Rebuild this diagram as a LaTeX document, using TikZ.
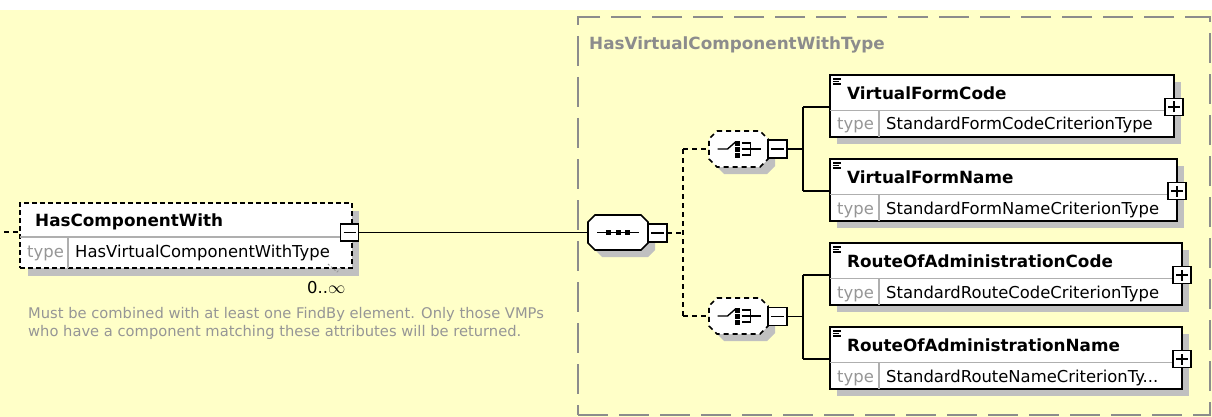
\documentclass[tikz,border=0pt]{standalone}
\usepackage{fontspec}
\setmainfont{DejaVu Sans}
\pgfdeclarelayer{back}
\pgfdeclarelayer{shadow}
\pgfsetlayers{back,shadow,main}
\definecolor{bg}{RGB}{255,255,200}
\definecolor{shd}{RGB}{192,192,192}
\definecolor{grpc}{RGB}{140,140,140}
\definecolor{typc}{RGB}{150,150,150}
\definecolor{dsc}{RGB}{150,150,150}
\definecolor{divc}{RGB}{175,175,175}
\newcommand\fnm{\fontsize{16.8pt}{19pt}\selectfont\bfseries}
\newcommand\ftv{\fontsize{16.4pt}{19pt}\selectfont}
\newcommand\fds{\fontsize{14.7pt}{18pt}\selectfont}
% element box: name, x, y, width, title, type
\newcommand\xelem[6]{%
  \node[ebox, minimum width=#4pt] (#1) at (#2,#3) {};
  \draw[divl] ({#2},{#3+35.5}) -- ({#2+#4},{#3+35.5});
  \draw[divl] ({#2+49},{#3+35.5}) -- ({#2+49},{#3+62});
  \draw[line width=1.1pt] ({#2+3},{#3+4}) -- ({#2+11},{#3+4})
                        ({#2+3},{#3+6.5}) -- ({#2+9},{#3+6.5})
                        ({#2+3},{#3+9}) -- ({#2+11},{#3+9});
  \node[nm] (#1n) at ({#2+17},{#3+18}) {#5};
  \node[tl] (#1t) at ({#2+7},{#3+49}) {type};
  \node[tv] (#1v) at ({#2+56},{#3+49}) {#6};
  \node[pm] (#1p) at ({#2+#4},{#3+32}) {};
  \draw[conn] ([xshift=3pt]#1p.west) -- ([xshift=-3pt]#1p.east)
              ([yshift=3pt]#1p.south) -- ([yshift=-3pt]#1p.north);
  \begin{pgfonlayer}{shadow}
    \fill[shd] ({#2+7},{#3+7}) rectangle ({#2+#4+7},{#3+69});
  \end{pgfonlayer}
}
% octagon path: cx, cy, w, h, chamfer
\newcommand\octpath[5]{({#1-#3/2+#5},{#2-#4/2}) -- ({#1+#3/2-#5},{#2-#4/2}) -- ({#1+#3/2},{#2-#4/2+#5}) -- ({#1+#3/2},{#2+#4/2-#5}) -- ({#1+#3/2-#5},{#2+#4/2}) -- ({#1-#3/2+#5},{#2+#4/2}) -- ({#1-#3/2},{#2+#4/2-#5}) -- ({#1-#3/2},{#2-#4/2+#5}) -- cycle}
\newcommand\minusglyph[1]{\draw[conn] ([xshift=3pt]#1.west) -- ([xshift=-3pt]#1.east);}
\newcommand\choiceglyph[2]{%
  \draw[line width=1.4pt] ({#1-21},{#2}) -- ({#1-11},{#2}) -- ({#1-3},{#2-7});
  \fill ({#1-3.5},{#2-8.5}) rectangle ({#1+1.5},{#2-3.5});
  \fill ({#1-3.5},{#2-2.5}) rectangle ({#1+1.5},{#2+2.5});
  \fill ({#1-3.5},{#2+3.5}) rectangle ({#1+1.5},{#2+8.5});
  \draw[line width=1.4pt] ({#1+3},{#2-6}) -- ({#1+12},{#2-6}) -- ({#1+12},{#2+6}) -- ({#1+3},{#2+6});
  \draw[line width=1.4pt] ({#1+3},{#2}) -- ({#1+22},{#2});
}
\begin{document}
\begin{tikzpicture}[x=1pt,y=-1pt,
  nm/.style={font=\fnm, anchor=west, inner sep=0pt, text height=12.2pt, text depth=0pt},
  tv/.style={font=\ftv, anchor=west, inner sep=0pt, text height=12pt, text depth=0pt},
  tl/.style={tv, text=typc},
  ds/.style={font=\fds, anchor=west, inner sep=0pt, text height=10.7pt, text depth=0pt, text=dsc},
  gt/.style={font=\fnm, anchor=west, inner sep=0pt, text height=12.2pt, text depth=0pt, text=grpc},
  ebox/.style={draw, line width=1.7pt, fill=white, anchor=north west, minimum height=62pt, inner sep=0pt, outer sep=0pt},
  dbox/.style={draw, line width=1.6pt, dash pattern=on 5pt off 3pt, fill=white, anchor=north west, inner sep=0pt, outer sep=0pt},
  pm/.style={draw, line width=1.6pt, fill=white, minimum width=18pt, minimum height=17pt, inner sep=0pt, outer sep=0pt},
  conn/.style={line width=1.6pt},
  dconn/.style={line width=1.6pt, dash pattern=on 5pt off 4pt},
  divl/.style={draw=divc, line width=1.1pt},
  comp/.style={inner sep=0pt, outer sep=0pt},
  groupbox/.style={draw=grpc, line width=2pt, dash pattern=on 30pt off 11pt, anchor=north west, inner sep=0pt, outer sep=0pt}
]
\useasboundingbox (0,0) rectangle (1212,417);
\begin{pgfonlayer}{back}
  \fill[white] (0,0) rectangle (1212,10);
  \fill[bg] (0,10) rectangle (1212,417);
\end{pgfonlayer}

% group box
\node[groupbox, minimum width=632pt, minimum height=398pt] (grp) at (578,17) {};
\node[gt] (grpt) at (589,43) {HasVirtualComponentWithType};

% HasComponentWith element
\node[dbox, minimum width=332pt, minimum height=65pt] (hcw) at (20,203) {};
\begin{pgfonlayer}{shadow}
  \fill[shd] (28,211) rectangle (359,276);
\end{pgfonlayer}
\draw[divl] (20,237) -- (352,237);
\draw[divl] (68,237) -- (68,268);
\node[nm] (hcwn) at (35,220) {HasComponentWith};
\node[tl] (hcwt) at (27,251) {type};
\node[tv] (hcwv) at (75,251) {HasVirtualComponentWithType};
\node[pm] (hcwm) at (349.5,232.5) {};
\minusglyph{hcwm}
\draw[line width=0.9pt, dash pattern=on 2pt off 2pt, typc] (328,264) -- (337,272) -- (341,268);
\node[tv] (occ) at (307,287) {0..\(\infty\)};
\node[ds] (desc1) at (28,313) {Must be combined with at least one FindBy element. Only those VMPs};
\node[ds] (desc2) at (28,331) {who have a component matching these attributes will be returned.};
\coordinate (inc) at (4,232);
\draw[dconn] (inc) -- (inc -| hcw.west);

% sequence compositor
\begin{pgfonlayer}{shadow}
  \fill[shd] \octpath{625}{239.5}{60}{35}{7};
\end{pgfonlayer}
\filldraw[conn, fill=white] \octpath{618}{232.5}{60}{35}{7};
\node[comp, minimum width=60pt, minimum height=35pt] (seq) at (618,232.5) {};
\draw[line width=1.4pt] (597,232.5) -- (639,232.5);
\fill (606,230) rectangle (611,235);
\fill (615.5,230) rectangle (620.5,235);
\fill (625,230) rectangle (630,235);
\node[pm, minimum width=19pt, minimum height=18pt] (seqm) at (657.5,233) {};
\minusglyph{seqm}
\draw[conn] (hcwm.east) -- (seq.west);

% junction
\coordinate (jn) at (683,233);
\coordinate (j1) at (683,149);
\coordinate (j2) at (683,316);
\draw[dconn] (seqm.east) -- (jn);
\draw[dconn] (j1) -- (j2);

% choice compositors
\begin{pgfonlayer}{shadow}
  \fill[shd] \octpath{745.5}{156}{59}{36}{8};
  \fill[shd] \octpath{745.5}{323}{59}{36}{8};
\end{pgfonlayer}
\filldraw[dconn, fill=white] \octpath{738.5}{149}{59}{36}{8};
\node[comp, minimum width=59pt, minimum height=36pt] (ch1) at (738.5,149) {};
\choiceglyph{738.5}{149}
\filldraw[dconn, fill=white] \octpath{738.5}{316}{59}{36}{8};
\node[comp, minimum width=59pt, minimum height=36pt] (ch2) at (738.5,316) {};
\choiceglyph{738.5}{316}
\node[pm, minimum width=19pt, minimum height=18pt] (ch1m) at (777.5,149) {};
\minusglyph{ch1m}
\node[pm, minimum width=19pt, minimum height=18pt] (ch2m) at (777.5,316.5) {};
\minusglyph{ch2m}
\draw[dconn] (j1) -- (ch1.west);
\draw[dconn] (j2) -- (ch2.west);

% child elements
\xelem{vfc}{830}{75}{344}{VirtualFormCode}{StandardFormCodeCriterionType}
\xelem{vfn}{830}{159}{347}{VirtualFormName}{StandardFormNameCriterionType}
\xelem{roac}{830}{243}{352}{RouteOfAdministrationCode}{StandardRouteCodeCriterionType}
\xelem{roan}{830}{327}{352}{RouteOfAdministrationName}{StandardRouteNameCriterionTy...}

% branch connectors
\coordinate (b1) at (803,149);
\coordinate (b1t) at (803,107);
\coordinate (b1b) at (803,191);
\draw[conn] (ch1m.east) -- (b1);
\draw[conn] (b1t) -- (b1b);
\draw[conn] (b1t) -- (b1t -| vfc.west);
\draw[conn] (b1b) -- (b1b -| vfn.west);
\coordinate (b2) at (803,316.5);
\coordinate (b2t) at (803,275);
\coordinate (b2b) at (803,359);
\draw[conn] (ch2m.east) -- (b2);
\draw[conn] (b2t) -- (b2b);
\draw[conn] (b2t) -- (b2t -| roac.west);
\draw[conn] (b2b) -- (b2b -| roan.west);
\end{tikzpicture}
\end{document}
